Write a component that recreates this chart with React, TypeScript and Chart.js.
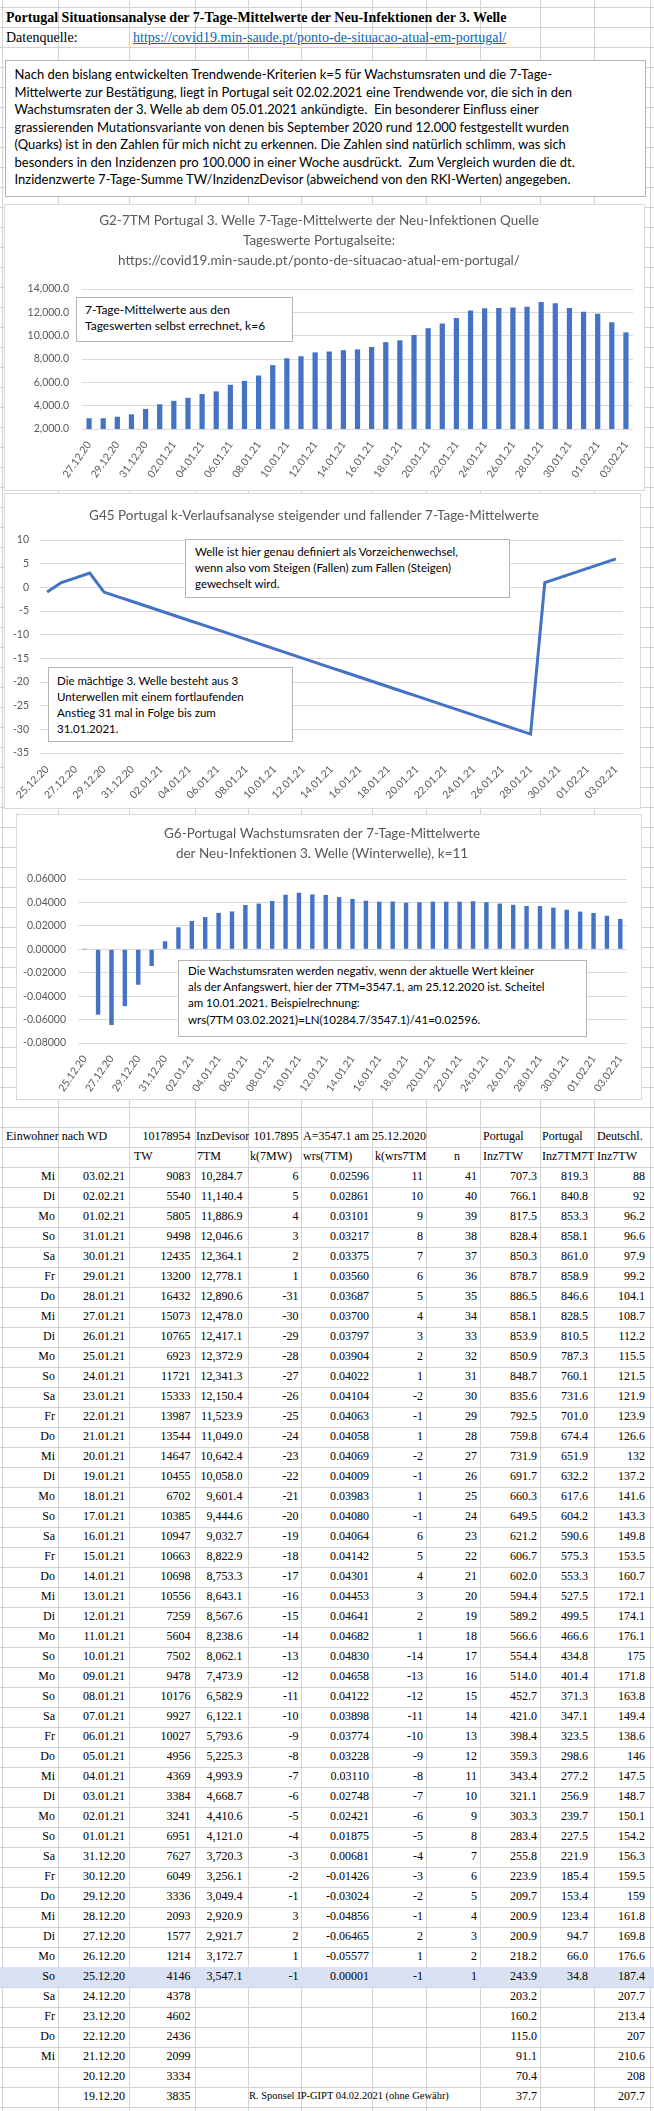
import React, { useEffect, useRef } from 'react';
import { Chart, registerables } from 'chart.js';
Chart.register(...registerables);

// ---------- table data (newest first) ----------
const weekdays = ['Mi','Di','Mo','So','Sa','Fr','Do','Mi','Di','Mo','So','Sa','Fr','Do','Mi','Di','Mo','So','Sa','Fr','Do','Mi','Di','Mo','So','Mo','So','Sa','Fr','Do','Mi','Di','Mo','So','Sa','Fr','Do','Mi','Di','Mo','So','Sa','Fr','Do','Mi','',''];
const dates = ['03.02.21','02.02.21','01.02.21','31.01.21','30.01.21','29.01.21','28.01.21','27.01.21','26.01.21','25.01.21','24.01.21','23.01.21','22.01.21','21.01.21','20.01.21','19.01.21','18.01.21','17.01.21','16.01.21','15.01.21','14.01.21','13.01.21','12.01.21','11.01.21','10.01.21','09.01.21','08.01.21','07.01.21','06.01.21','05.01.21','04.01.21','03.01.21','02.01.21','01.01.21','31.12.20','30.12.20','29.12.20','28.12.20','27.12.20','26.12.20','25.12.20','24.12.20','23.12.20','22.12.20','21.12.20','20.12.20','19.12.20'];
const tw = [9083,5540,5805,9498,12435,13200,16432,15073,10765,6923,11721,15333,13987,13544,14647,10455,6702,10385,10947,10663,10698,10556,7259,5604,7502,9478,10176,9927,10027,4956,4369,3384,3241,6951,7627,6049,3336,2093,1577,1214,4146,4378,4602,2436,2099,3334,3835];
const tm7 = [10284.7,11140.4,11886.9,12046.6,12364.1,12778.1,12890.6,12478.0,12417.1,12372.9,12341.3,12150.4,11523.9,11049.0,10642.4,10058.0,9601.4,9444.6,9032.7,8822.9,8753.3,8643.1,8567.6,8238.6,8062.1,7473.9,6582.9,6122.1,5793.6,5225.3,4993.9,4668.7,4410.6,4121.0,3720.3,3256.1,3049.4,2920.9,2921.7,3172.7,3547.1];
const k7mw = [6,5,4,3,2,1,-31,-30,-29,-28,-27,-26,-25,-24,-23,-22,-21,-20,-19,-18,-17,-16,-15,-14,-13,-12,-11,-10,-9,-8,-7,-6,-5,-4,-3,-2,-1,3,2,1,-1];
const wrs = [0.02596,0.02861,0.03101,0.03217,0.03375,0.03560,0.03687,0.03700,0.03797,0.03904,0.04022,0.04104,0.04063,0.04058,0.04069,0.04009,0.03983,0.04080,0.04064,0.04142,0.04301,0.04453,0.04641,0.04682,0.04830,0.04658,0.04122,0.03898,0.03774,0.03228,0.03110,0.02748,0.02421,0.01875,0.00681,-0.01426,-0.03024,-0.04856,-0.06465,-0.05577,0.00001];
const kwrs = [11,10,9,8,7,6,5,4,3,2,1,-2,-1,1,-2,-1,1,-1,6,5,4,3,2,1,-14,-13,-12,-11,-10,-9,-8,-7,-6,-5,-4,-3,-2,-1,2,1,-1];
const nCol = [41,40,39,38,37,36,35,34,33,32,31,30,29,28,27,26,25,24,23,22,21,20,19,18,17,16,15,14,13,12,11,10,9,8,7,6,5,4,3,2,1];
const inz7tw = [707.3,766.1,817.5,828.4,850.3,878.7,886.5,858.1,853.9,850.9,848.7,835.6,792.5,759.8,731.9,691.7,660.3,649.5,621.2,606.7,602.0,594.4,589.2,566.6,554.4,514.0,452.7,421.0,398.4,359.3,343.4,321.1,303.3,283.4,255.8,223.9,209.7,200.9,200.9,218.2,243.9,203.2,160.2,115.0,91.1,70.4,37.7];
const inz7tm7t = [819.3,840.8,853.3,858.1,861.0,858.9,846.6,828.5,810.5,787.3,760.1,731.6,701.0,674.4,651.9,632.2,617.6,604.2,590.6,575.3,553.3,527.5,499.5,466.6,434.8,401.4,371.3,347.1,323.5,298.6,277.2,256.9,239.7,227.5,221.9,185.4,153.4,123.4,94.7,66.0,34.8];
const deInz = [88,92,96.2,96.6,97.9,99.2,104.1,108.7,112.2,115.5,121.5,121.9,123.9,126.6,132,137.2,141.6,143.3,149.8,153.5,160.7,172.1,174.1,176.1,175,171.8,163.8,149.4,138.6,146,147.5,148.7,150.1,154.2,156.3,159.5,159,161.8,169.8,176.6,187.4,207.7,213.4,207,210.6,208,207.7];

// ---------- chart series (chronological) ----------
const g2Labels = dates.slice(0, 39).reverse();
const g2Values = tm7.slice(0, 39).reverse();
const g45Labels = dates.slice(0, 41).reverse();
const g45Values = k7mw.slice().reverse();
const g6Labels = dates.slice(0, 41).reverse();
const g6Values = wrs.slice().reverse();

const g2Title = ['G2-7TM Portugal 3. Welle 7-Tage-Mittelwerte der Neu-Infektionen Quelle', 'Tageswerte Portugalseite:', 'https://covid19.min-saude.pt/ponto-de-situacao-atual-em-portugal/'];
const g45Title = 'G45 Portugal k-Verlaufsanalyse steigender und fallender 7-Tage-Mittelwerte';
const g6Title = ['G6-Portugal Wachstumsraten der 7-Tage-Mittelwerte', 'der Neu-Infektionen 3. Welle (Winterwelle), k=11'];

const introLines = [
  'Nach den bislang entwickelten Trendwende-Kriterien k=5 für Wachstumsraten und die 7-Tage-',
  'Mittelwerte zur Bestätigung, liegt in Portugal seit 02.02.2021 eine Trendwende vor, die sich in den',
  'Wachstumsraten der 3. Welle ab dem 05.01.2021 ankündigte.  Ein besonderer Einfluss einer',
  'grassierenden Mutationsvariante von denen bis September 2020 rund 12.000 festgestellt wurden',
  '(Quarks) ist in den Zahlen für mich nicht zu erkennen. Die Zahlen sind natürlich schlimm, was sich',
  'besonders in den Inzidenzen pro 100.000 in einer Woche ausdrückt.  Zum Vergleich wurden die dt.',
  'Inzidenzwerte 7-Tage-Summe TW/InzidenzDevisor (abweichend von den RKI-Werten) angegeben.',
];

const BLUE = '#4472c4';
const GREY = '#595959';
const GRID = '#d9d9d9';
const SHEET_GRID = '#d4d4d4';
const SANS = 'Lato';
const SERIF = '"Liberation Serif", "Times New Roman", serif';
const tickFont = { family: SANS, size: 10.5 };
const titleFont = { family: SANS, size: 13.5, weight: 'normal' as const, lineHeight: '20px' };

function everyOther(this: any, value: any, index: number) {
  return index % 2 === 0 ? this.getLabelForValue(value) : '';
}
const fmt1 = (v: number) => v.toLocaleString('en-US', { minimumFractionDigits: 1, maximumFractionDigits: 1 });

type Box = { left: number; top: number; width: number; height: number };

function ChartFrame({ box, make }: { box: Box; make: (c: HTMLCanvasElement) => Chart }) {
  const ref = useRef<HTMLCanvasElement>(null);
  useEffect(() => {
    const ch = make(ref.current as HTMLCanvasElement);
    return () => ch.destroy();
  }, []);
  return (
    <div style={{ position: 'absolute', left: box.left, top: box.top, width: box.width, height: box.height, border: '1px solid #d9d9d9', boxSizing: 'border-box', background: '#fff' }}>
      <canvas ref={ref} width={box.width - 2} height={box.height - 2} style={{ display: 'block', width: box.width - 2, height: box.height - 2 }} />
    </div>
  );
}

const makeG2 = (c: HTMLCanvasElement) => new Chart(c, {
  type: 'bar',
  data: { labels: g2Labels, datasets: [{ data: g2Values, backgroundColor: BLUE, barPercentage: 0.37, categoryPercentage: 1 }] },
  options: {
    animation: false, responsive: false, events: [],
    layout: { padding: { left: 0, right: 11, top: 0, bottom: 0 } },
    plugins: {
      legend: { display: false }, tooltip: { enabled: false },
      title: { display: true, text: g2Title, color: GREY, font: titleFont, padding: { top: 6, bottom: 18 } },
    },
    scales: {
      x: {
        grid: { display: false }, border: { display: false },
        ticks: { autoSkip: false, minRotation: 55, maxRotation: 55, color: GREY, font: tickFont, padding: 2, callback: everyOther },
        afterFit: (s: any) => { s.height = 61; },
      },
      y: {
        min: 2000, max: 14000,
        ticks: { stepSize: 2000, color: GREY, font: tickFont, padding: 13, callback: (v: any) => fmt1(Number(v)) },
        grid: { color: GRID, drawTicks: false }, border: { display: false },
        afterFit: (s: any) => { s.width = 77; },
      },
    },
  },
} as any);

const makeG45 = (c: HTMLCanvasElement) => new Chart(c, {
  type: 'line',
  data: { labels: g45Labels, datasets: [{ data: g45Values, borderColor: BLUE, borderWidth: 3, pointRadius: 0, tension: 0, fill: false }] },
  options: {
    animation: false, responsive: false, events: [],
    layout: { padding: { left: 0, right: 17, top: 0, bottom: 0 } },
    plugins: {
      legend: { display: false }, tooltip: { enabled: false },
      title: { display: true, text: g45Title, color: GREY, font: { ...titleFont, lineHeight: '17px' }, padding: { top: 13.5, bottom: 15.5 } },
    },
    scales: {
      x: {
        offset: true,
        grid: { display: false }, border: { display: false },
        ticks: { autoSkip: false, minRotation: 45, maxRotation: 45, color: GREY, font: tickFont, padding: 2, callback: everyOther },
        afterFit: (s: any) => { s.height = 55; },
      },
      y: {
        min: -35, max: 10,
        ticks: { stepSize: 5, color: GREY, font: tickFont, padding: 11 },
        grid: { color: GRID, drawTicks: false }, border: { display: false },
        afterFit: (s: any) => { s.width = 35; },
      },
    },
  },
} as any);

const makeG6 = (c: HTMLCanvasElement) => new Chart(c, {
  type: 'bar',
  data: { labels: g6Labels, datasets: [{ data: g6Values, backgroundColor: BLUE, barPercentage: 0.33, categoryPercentage: 1 }] },
  options: {
    animation: false, responsive: false, events: [],
    layout: { padding: { left: 0, right: 14, top: 0, bottom: 0 } },
    plugins: {
      legend: { display: false }, tooltip: { enabled: false },
      title: { display: true, text: g6Title, color: GREY, font: titleFont, padding: { top: 9, bottom: 15 } },
    },
    scales: {
      x: {
        grid: { display: false }, border: { display: false },
        ticks: { autoSkip: false, minRotation: 55, maxRotation: 55, color: GREY, font: tickFont, padding: 2, callback: everyOther },
        afterFit: (s: any) => { s.height = 56; },
      },
      y: {
        min: -0.08, max: 0.06,
        ticks: { stepSize: 0.02, color: GREY, font: tickFont, padding: 12, callback: (v: any) => (Math.abs(Number(v)) < 1e-9 ? '0.00000' : Number(v).toFixed(5)) },
        grid: { color: GRID, drawTicks: false }, border: { display: false },
        afterFit: (s: any) => { s.width = 61; },
      },
    },
  },
} as any);

function Note({ left, top, width, height, lines, textLeft, firstCenter, lineH, size }: { left: number; top: number; width: number; height: number; lines: string[]; textLeft: number; firstCenter: number; lineH: number; size: number }) {
  return (
    <div style={{ position: 'absolute', left, top, width, height, border: '1px solid #b4b4b4', boxSizing: 'border-box', background: '#fff' }}>
      {lines.map((l, i) => (
        <div key={i} style={{ position: 'absolute', left: textLeft - left - 1, top: firstCenter - top - 1 + i * lineH - lineH / 2, height: lineH, lineHeight: lineH + 'px', fontFamily: SANS, fontSize: size, color: '#000', whiteSpace: 'pre' }}>{l}</div>
      ))}
    </div>
  );
}

const colLines = [2, 58, 129, 195, 248, 301, 372, 426, 480, 540, 594, 650];
const colRight = [55, 125, 190.5, 242.5, 298.5, 369, 423, 477, 537, 588, 645];
const TABLE_TOP = 1127;
const ROW = 20;
const TSIZE = 12;

function Cell({ text, x, y, align = 'right', size = TSIZE, clip }: { text: string; x: number; y: number; align?: 'left' | 'right'; size?: number; clip?: number }) {
  const base: any = { position: 'absolute', top: y - 1, height: ROW, lineHeight: ROW + 'px', fontFamily: SERIF, fontSize: size, whiteSpace: 'pre', color: '#000' };
  if (align === 'right') return <div style={{ ...base, right: 654 - x, textAlign: 'right' }}>{text}</div>;
  if (clip) return <div style={{ ...base, left: x, width: clip - x, overflow: 'hidden' }}>{text}</div>;
  return <div style={{ ...base, left: x }}>{text}</div>;
}

export default function App() {
  const hLines: number[] = [];
  for (let y = 7; y <= 2107; y += ROW) hLines.push(y);
  const cells: React.ReactNode[] = [];
  const r0 = TABLE_TOP;
  cells.push(<Cell key="h1" text="Einwohner nach WD" x={6} y={r0} align="left" />);
  cells.push(<Cell key="h2" text="10178954" x={190.5} y={r0} />);
  cells.push(<Cell key="h3" text="InzDevisor" x={196} y={r0} align="left" />);
  cells.push(<Cell key="h4" text="101.7895" x={298.5} y={r0} />);
  cells.push(<Cell key="h5" text="A=3547.1 am 25.12.2020" x={303} y={r0} align="left" />);
  cells.push(<Cell key="h6" text="Portugal" x={483} y={r0} align="left" />);
  cells.push(<Cell key="h7" text="Portugal" x={542} y={r0} align="left" />);
  cells.push(<Cell key="h8" text="Deutschl." x={597} y={r0} align="left" />);
  const r1 = r0 + ROW;
  const hdr: [string, number, number | undefined][] = [['TW', 134, undefined], ['7TM', 197, undefined], ['k(7MW)', 250, undefined], ['wrs(7TM)', 303, undefined], ['k(wrs7TM)', 375, 426], ['n', 454, undefined], ['Inz7TW', 483, undefined], ['Inz7TM7T', 542, 594], ['Inz7TW', 597, undefined]];
  hdr.forEach(([t, x, c], i) => cells.push(<Cell key={'hh' + i} text={t} x={x} y={r1} align="left" clip={c} />));
  dates.forEach((d, i) => {
    const y = r1 + ROW * (i + 1);
    if (weekdays[i]) cells.push(<Cell key={'w' + i} text={weekdays[i]} x={colRight[0]} y={y} />);
    cells.push(<Cell key={'d' + i} text={d} x={colRight[1]} y={y} />);
    cells.push(<Cell key={'t' + i} text={String(tw[i])} x={colRight[2]} y={y} />);
    if (i < tm7.length) {
      cells.push(<Cell key={'m' + i} text={fmt1(tm7[i])} x={colRight[3]} y={y} />);
      cells.push(<Cell key={'k' + i} text={String(k7mw[i])} x={colRight[4]} y={y} />);
      cells.push(<Cell key={'r' + i} text={wrs[i].toFixed(5)} x={colRight[5]} y={y} />);
      cells.push(<Cell key={'kw' + i} text={String(kwrs[i])} x={colRight[6]} y={y} />);
      cells.push(<Cell key={'n' + i} text={String(nCol[i])} x={colRight[7]} y={y} />);
      cells.push(<Cell key={'p2' + i} text={inz7tm7t[i].toFixed(1)} x={colRight[9]} y={y} />);
    }
    cells.push(<Cell key={'p1' + i} text={inz7tw[i].toFixed(1)} x={colRight[8]} y={y} />);
    cells.push(<Cell key={'de' + i} text={String(deInz[i])} x={colRight[10]} y={y} />);
  });
  const lastY = r1 + ROW * dates.length;
  cells.push(<Cell key="foot" text="R. Sponsel IP-GIPT 04.02.2021 (ohne Gewähr)" x={249} y={lastY} align="left" size={10.5} />);
  const hiY = r1 + ROW * 41;

  return (
    <div style={{ position: 'absolute', left: 0, top: 0, width: 654, height: 2111, background: '#fff', overflow: 'hidden' }}>
      {hLines.map((y) => <div key={'hl' + y} style={{ position: 'absolute', left: 0, top: y, width: 654, height: 1, background: SHEET_GRID }} />)}
      {colLines.map((x) => <div key={'vl' + x} style={{ position: 'absolute', left: x, top: 0, width: 1, height: 2111, background: SHEET_GRID }} />)}
      <div style={{ position: 'absolute', left: 0, top: hiY, width: 654, height: ROW, background: '#d9e1f2' }} />

      <div style={{ position: 'absolute', left: 6, top: 8, height: 20, lineHeight: '20px', fontFamily: SERIF, fontWeight: 'bold', fontSize: 14, whiteSpace: 'nowrap' }}>Portugal Situationsanalyse der 7-Tage-Mittelwerte der Neu-Infektionen der 3. Welle</div>
      <div style={{ position: 'absolute', left: 6, top: 28, height: 20, lineHeight: '20px', fontFamily: SERIF, fontSize: 14, whiteSpace: 'nowrap' }}>Datenquelle:</div>
      <div style={{ position: 'absolute', left: 133, top: 28, height: 20, lineHeight: '20px', fontFamily: SERIF, fontSize: 14, whiteSpace: 'nowrap', color: '#0563c1', textDecoration: 'underline' }}>https://covid19.min-saude.pt/ponto-de-situacao-atual-em-portugal/</div>

      <Note left={5} top={60} width={641} height={137} lines={introLines} textLeft={14.5} firstCenter={75} lineH={17.5} size={13} />

      <ChartFrame box={{ left: 4, top: 204, width: 641, height: 287 }} make={makeG2} />
      <Note left={76} top={297} width={217} height={45} lines={['7-Tage-Mittelwerte aus den', 'Tageswerten selbst errechnet, k=6']} textLeft={85} firstCenter={310} lineH={15.5} size={12} />

      <ChartFrame box={{ left: 4, top: 493, width: 637, height: 316 }} make={makeG45} />
      <Note left={185} top={539} width={325} height={59} lines={['Welle ist hier genau definiert als Vorzeichenwechsel,', 'wenn also vom Steigen (Fallen) zum Fallen (Steigen)', 'gewechselt wird.']} textLeft={195} firstCenter={552} lineH={16} size={11.5} />
      <Note left={48} top={667} width={245} height={75} lines={['Die mächtige 3. Welle besteht aus 3', 'Unterwellen mit einem fortlaufenden', 'Anstieg 31 mal in Folge bis zum', '31.01.2021.']} textLeft={57} firstCenter={681} lineH={16} size={11.5} />

      <ChartFrame box={{ left: 16, top: 814, width: 626, height: 286 }} make={makeG6} />
      <Note left={178} top={960} width={409} height={77} lines={['Die Wachstumsraten werden negativ, wenn der aktuelle Wert kleiner', 'als der Anfangswert, hier der 7TM=3547.1, am 25.12.2020 ist. Scheitel', 'am 10.01.2021. Beispielrechnung:', 'wrs(7TM 03.02.2021)=LN(10284.7/3547.1)/41=0.02596.']} textLeft={188} firstCenter={971} lineH={16.3} size={11.5} />

      {cells}
    </div>
  );
}
